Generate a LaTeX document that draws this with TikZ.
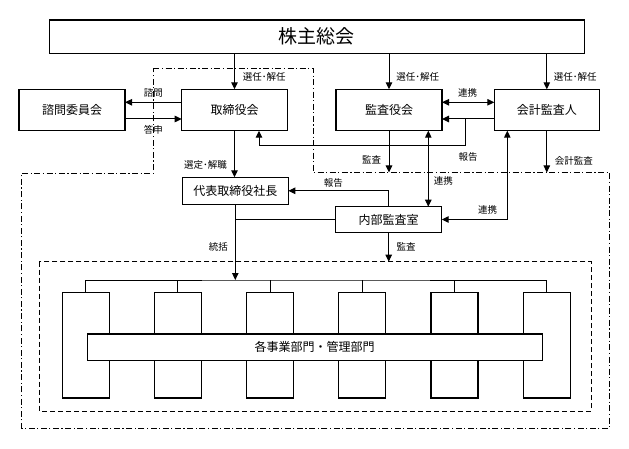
\documentclass[tikz,border=0pt]{standalone}
\usepackage{fontspec}
\newfontfamily\jp{Noto Sans CJK JP}
\usetikzlibrary{arrows.meta}
\tikzset{
  box/.style={draw, line width=1.1pt, inner sep=0pt, outer sep=0pt, fill=white,
    font=\jp\fontsize{12}{12}\selectfont},
  dept/.style={draw, line width=1.1pt, inner sep=0pt, outer sep=0pt, fill=white,
    minimum width=47pt, minimum height=105.3pt},
  lbl/.style={font=\jp\fontsize{9.5}{9.5}\selectfont, inner sep=0pt},
  conn/.style={line width=1pt},
  arr/.style={line width=1pt, -{Triangle[length=7pt,width=6.5pt]}},
  darr/.style={line width=1pt, {Triangle[length=7pt,width=6.5pt]}-{Triangle[length=7pt,width=6.5pt]}},
  dashdotline/.style={line width=1pt, dash pattern=on 6pt off 2.5pt on 1.2pt off 2.5pt},
  dashline/.style={line width=1pt, dash pattern=on 5pt off 3pt},
}
\begin{document}
\begin{tikzpicture}[x=1pt,y=-1pt]
\useasboundingbox (0,0) rectangle (629,449);

% regions
\draw[dashdotline] (153.3,68.3) -- (313,68.3) -- (313,172.5) -- (609.3,172.5) -- (609.3,428.3)
  -- (21.7,428.3) -- (21.7,173.3) -- (153.3,173.3) -- cycle;
\draw[dashline] (39.3,261.7) rectangle (591,411);

% main nodes
\node[box, minimum width=535pt, minimum height=33.3pt, font=\jp\fontsize{19}{19}\selectfont] (soukai) at (316.8,36.7) {株主総会};
\node[box, minimum width=106pt, minimum height=41.4pt] (shinmon) at (72,110) {諮問委員会};
\node[box, minimum width=105.6pt, minimum height=41.4pt] (torishimari) at (234.5,110) {取締役会};
\node[box, minimum width=106pt, minimum height=41.4pt] (kansayaku) at (389,110) {監査役会};
\node[box, minimum width=105pt, minimum height=41.4pt] (kaikei) at (546.8,110) {会計監査人};
\node[box, minimum width=106pt, minimum height=27pt] (daihyo) at (235.3,190.8) {代表取締役社長};
\node[box, minimum width=106pt, minimum height=25.6pt] (naibu) at (388.7,219.5) {内部監査室};

% departments
\coordinate (bus) at (316,280);
\foreach \i in {0,...,5} {
  \node[dept] (b\i) at (85.7+92.2*\i,345.35) {};
}
\draw[conn] (b0.north) |- (bus) -| (b5.north);
\foreach \i in {1,...,4} {
  \draw[conn] (b\i.north) -- (b\i.north |- bus);
}
\node[box, minimum width=455.3pt, minimum height=26.7pt] (bar) at (314.7,347.35) {各事業部門・管理部門};

% connectors from shareholders
\draw[arr] (torishimari.north |- soukai.south) -- (torishimari.north);
\draw[arr] (kansayaku.north |- soukai.south) -- (kansayaku.north);
\draw[arr] (kaikei.north |- soukai.south) -- (kaikei.north);
\node[lbl] at (264.3,76.7) {選任･解任};
\node[lbl] at (417.7,76.7) {選任･解任};
\node[lbl] at (575.3,76.7) {選任･解任};

% advisory committee
\draw[arr] ([yshift=7.7pt]torishimari.west) -- ([yshift=7.7pt]shinmon.east);
\draw[arr] ([yshift=-9pt]shinmon.east) -- ([yshift=-9pt]torishimari.west);
\node[lbl] at (153.3,92.7) {諮問};
\node[lbl] at (153.3,130) {答申};

% auditors
\draw[darr] ([yshift=7.7pt]kansayaku.east) -- ([yshift=7.7pt]kaikei.west);
\node[lbl] at (467.7,92.7) {連携};
\coordinate (hj) at (465.7,119);
\coordinate (hb) at (259,145.7);
\draw[arr] ([yshift=-9pt]kaikei.west) -- ([yshift=-9pt]kansayaku.east);
\draw[arr] (hj) |- (hb) -- (hb |- torishimari.south);
\node[lbl] at (468,156.7) {報告};

\coordinate (kb) at (389,172.5);
\draw[arr] (kansayaku.south) -- (kb);
\node[lbl] at (371.7,160) {監査};
\coordinate (ab) at (546.8,172.5);
\draw[arr] (kaikei.south) -- (ab);
\node[lbl] at (573.8,161) {会計監査};

\draw[darr] ([xshift=39.3pt]kansayaku.south) -- ([xshift=39.3pt]kansayaku.south |- naibu.north);
\node[lbl] at (443.3,181) {連携};
\draw[darr] ([xshift=-39.5pt]kaikei.south) |- (naibu.east);
\node[lbl] at (487.5,210) {連携};

% management
\draw[arr] (torishimari.south) -- (torishimari.south |- daihyo.north);
\node[lbl] at (205.5,165) {選定･解職};
\draw[arr] (naibu.north) |- (daihyo.east);
\node[lbl] at (333.3,183.3) {報告};
\draw[conn] (naibu.west) -- (naibu.west -| daihyo.south);
\draw[arr] (daihyo.south) -- (daihyo.south |- bus);
\node[lbl] at (218.3,246.7) {統括};
\coordinate (dtop) at (388.7,261.7);
\draw[arr] (naibu.south) -- (dtop);
\node[lbl] at (406,246.7) {監査};
\end{tikzpicture}
\end{document}
